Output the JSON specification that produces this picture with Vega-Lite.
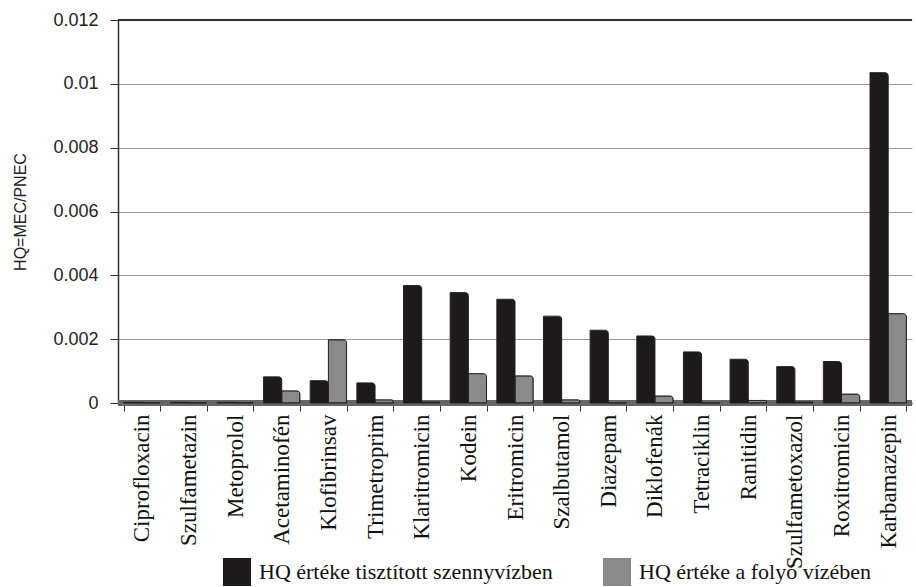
{
  "$schema": "https://vega.github.io/schema/vega-lite/v6.json",
  "autosize": "none",
  "width": 794,
  "height": 383,
  "padding": {"left": 118, "top": 20, "right": 4, "bottom": 184},
  "background": "white",
  "config": {"view": {"stroke": null}},
  "data": {"values": [
    {"drug": "Ciprofloxacin", "series": "HQ értéke tisztított szennyvízben", "hq": 0.00002},
    {"drug": "Ciprofloxacin", "series": "HQ értéke a folyó vízében", "hq": 0.00001},
    {"drug": "Szulfametazin", "series": "HQ értéke tisztított szennyvízben", "hq": 0.00002},
    {"drug": "Szulfametazin", "series": "HQ értéke a folyó vízében", "hq": 0.00001},
    {"drug": "Metoprolol", "series": "HQ értéke tisztított szennyvízben", "hq": 0.00002},
    {"drug": "Metoprolol", "series": "HQ értéke a folyó vízében", "hq": 0.00001},
    {"drug": "Acetaminofén", "series": "HQ értéke tisztított szennyvízben", "hq": 0.00082},
    {"drug": "Acetaminofén", "series": "HQ értéke a folyó vízében", "hq": 0.00038},
    {"drug": "Klofibrinsav", "series": "HQ értéke tisztított szennyvízben", "hq": 0.0007},
    {"drug": "Klofibrinsav", "series": "HQ értéke a folyó vízében", "hq": 0.00198},
    {"drug": "Trimetroprim", "series": "HQ értéke tisztított szennyvízben", "hq": 0.00063},
    {"drug": "Trimetroprim", "series": "HQ értéke a folyó vízében", "hq": 0.0001},
    {"drug": "Klaritromicin", "series": "HQ értéke tisztított szennyvízben", "hq": 0.00368},
    {"drug": "Klaritromicin", "series": "HQ értéke a folyó vízében", "hq": 0.00003},
    {"drug": "Kodein", "series": "HQ értéke tisztított szennyvízben", "hq": 0.00346},
    {"drug": "Kodein", "series": "HQ értéke a folyó vízében", "hq": 0.00092},
    {"drug": "Eritromicin", "series": "HQ értéke tisztított szennyvízben", "hq": 0.00325},
    {"drug": "Eritromicin", "series": "HQ értéke a folyó vízében", "hq": 0.00085},
    {"drug": "Szalbutamol", "series": "HQ értéke tisztított szennyvízben", "hq": 0.00272},
    {"drug": "Szalbutamol", "series": "HQ értéke a folyó vízében", "hq": 0.0001},
    {"drug": "Diazepam", "series": "HQ értéke tisztított szennyvízben", "hq": 0.00228},
    {"drug": "Diazepam", "series": "HQ értéke a folyó vízében", "hq": 0},
    {"drug": "Diklofenák", "series": "HQ értéke tisztított szennyvízben", "hq": 0.0021},
    {"drug": "Diklofenák", "series": "HQ értéke a folyó vízében", "hq": 0.00022},
    {"drug": "Tetraciklin", "series": "HQ értéke tisztított szennyvízben", "hq": 0.0016},
    {"drug": "Tetraciklin", "series": "HQ értéke a folyó vízében", "hq": 0},
    {"drug": "Ranitidin", "series": "HQ értéke tisztított szennyvízben", "hq": 0.00137},
    {"drug": "Ranitidin", "series": "HQ értéke a folyó vízében", "hq": 0.00008},
    {"drug": "Szulfametoxazol", "series": "HQ értéke tisztított szennyvízben", "hq": 0.00114},
    {"drug": "Szulfametoxazol", "series": "HQ értéke a folyó vízében", "hq": 0.00003},
    {"drug": "Roxitromicin", "series": "HQ értéke tisztított szennyvízben", "hq": 0.0013},
    {"drug": "Roxitromicin", "series": "HQ értéke a folyó vízében", "hq": 0.00028},
    {"drug": "Karbamazepin", "series": "HQ értéke tisztított szennyvízben", "hq": 0.01035},
    {"drug": "Karbamazepin", "series": "HQ értéke a folyó vízében", "hq": 0.0028}
  ]},
  "encoding": {
    "x": {
      "field": "drug", "type": "nominal", "sort": null,
      "scale": {"paddingInner": 0.22, "paddingOuter": 0.12},
      "axis": {
        "title": null, "labelAngle": -90, "labelAlign": "right", "labelBaseline": "middle",
        "labelFont": "Liberation Serif", "labelFontWeight": "normal", "labelFontSize": 23,
        "labelColor": "#111", "labelPadding": 3, "labelLimit": 300, "domainColor": "#333", "tickColor": "#333",
        "tickSize": 8, "tickBand": "extent", "domainWidth": 1.5
      }
    }
  },
  "layer": [
    {
      "mark": {"type": "rule", "color": "#666", "strokeWidth": 6},
      "encoding": {"y": {"datum": 0, "type": "quantitative"}, "x": {"value": 0}, "x2": {"value": 794}}
    },
    {
      "mark": {"type": "bar", "stroke": "#222", "strokeWidth": 1, "cornerRadiusTopRight": 3},
      "encoding": {
        "xOffset": {"field": "series", "type": "nominal", "sort": ["HQ értéke tisztított szennyvízben", "HQ értéke a folyó vízében"]},
        "y": {
          "field": "hq", "type": "quantitative",
          "scale": {"domain": [0, 0.012]},
          "axis": {
            "title": "HQ=MEC/PNEC", "titleFont": "Liberation Sans", "titleFontSize": 16,
            "titleFontWeight": "normal", "titleColor": "#222", "titlePadding": 24,
            "values": [0, 0.002, 0.004, 0.006, 0.008, 0.01, 0.012],
            "labelExpr": "datum.value == 0 ? '0' : format(datum.value, '.3~f')",
            "labelFont": "Liberation Sans", "labelFontSize": 18, "labelColor": "#222",
            "tickSize": 8, "tickColor": "#333", "domainColor": "#333", "domainWidth": 1.5,
            "grid": true, "gridColor": "#999", "gridWidth": 1, "labelPadding": 12
          }
        },
        "color": {
          "field": "series", "type": "nominal",
          "scale": {"domain": ["HQ értéke tisztított szennyvízben", "HQ értéke a folyó vízében"], "range": ["#1c1a1a", "#8a8a8a"]},
          "legend": {
            "title": null, "orient": "none", "legendX": 105, "legendY": 538,
            "direction": "horizontal", "symbolType": "square", "symbolSize": 784,
            "symbolStrokeWidth": 0, "labelFont": "Liberation Serif", "labelFontSize": 22,
            "labelColor": "#111", "columnPadding": 50, "labelOffset": 8, "labelLimit": 400
          }
        }
      }
    },
    {
      "mark": {"type": "rule", "color": "#333", "strokeWidth": 1.5},
      "encoding": {"y": {"datum": 0.012, "type": "quantitative"}, "x": {"value": 0}, "x2": {"value": 794}}
    }
  ]
}
